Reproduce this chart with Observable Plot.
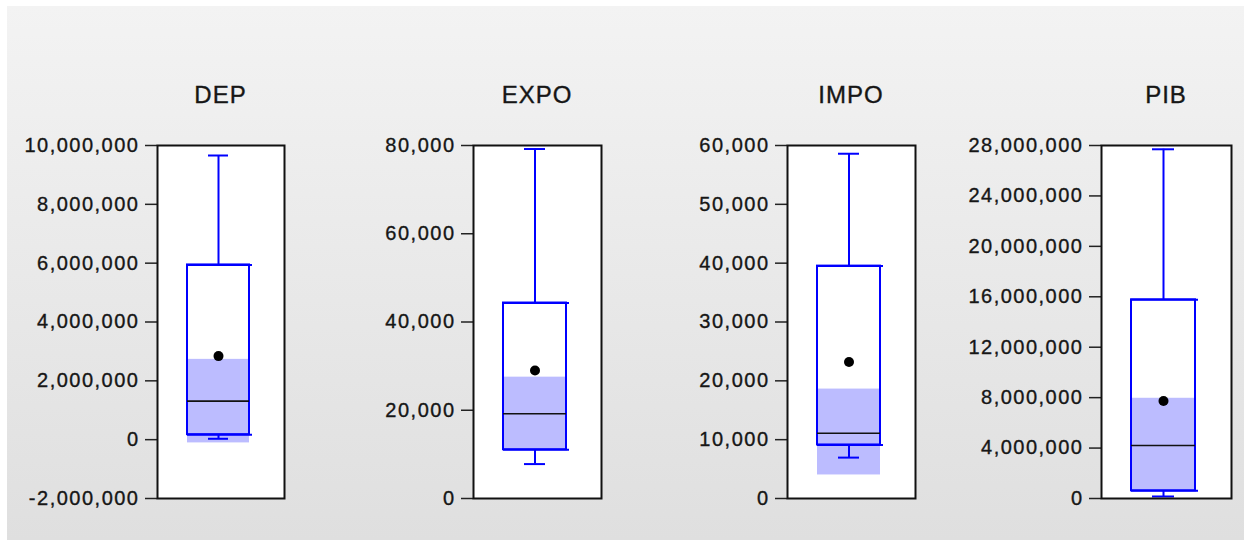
<!DOCTYPE html>
<html><head><meta charset="utf-8">
<script src="https://cdn.jsdelivr.net/npm/d3@7"></script>
<script src="https://cdn.jsdelivr.net/npm/@observablehq/plot@0.6"></script>
<style>
html,body{margin:0;padding:0;background:#fff;}
#page{position:relative;width:1244px;height:540px;overflow:hidden;background:#fff;}
#bg{position:absolute;left:7px;top:6px;right:0;bottom:0;background:linear-gradient(#f3f3f3,#dfdfdf);}
.title{position:absolute;top:83px;width:200px;font:24px "Liberation Sans",Arial,sans-serif;letter-spacing:1px;color:#161616;line-height:24px;text-align:center;-webkit-text-stroke:0.35px #161616;}
.panel{position:absolute;top:130px;}
.panel svg text{stroke:#161616;stroke-width:0.35px;}
</style></head>
<body><div id="page"><div id="bg"></div></div>
<script>
// Series and box statistics
const series = ["DEP", "EXPO", "IMPO", "PIB"];
const upperWhisker = [9660000, 79200, 58600, 27700000];
const q3 = [5940000, 44300, 39500, 15760000];
const median = [1310000, 19200, 11100, 4200000];
const mean = [2840000, 29000, 23200, 7730000];
const q1 = [170000, 11050, 9100, 610000];
const lowerWhisker = [30000, 7800, 6950, 160000];
const ciLow = [-110000, 10900, 4000, 550000];
const ciHigh = [2730000, 27500, 18600, 7950000];
const tickValues = [
  [-2000000, 0, 2000000, 4000000, 6000000, 8000000, 10000000],
  [0, 20000, 40000, 60000, 80000],
  [0, 10000, 20000, 30000, 40000, 50000, 60000],
  [0, 4000000, 8000000, 12000000, 16000000, 20000000, 24000000, 28000000]
];

// layout
const frameLeft = [157, 473, 787, 1101];
const frameWidth = [127, 128, 128, 130];
const ML = 150, MR = 10;

const fmt = d3.formatLocale({decimal: ".", thousands: ",", grouping: [3], currency: ["", ""], minus: "-"}).format(",");
const page = document.getElementById("page");
const blue = "#0000ff";

series.forEach((name, i) => {
  const d = [{name, lo: lowerWhisker[i], q1: q1[i], med: median[i], q3: q3[i], hi: upperWhisker[i], mean: mean[i], ciLo: ciLow[i], ciHi: ciHigh[i]}];
  const ticks = tickValues[i];
  const plot = Plot.plot({
    width: ML + frameWidth[i] + MR,
    height: 390,
    marginLeft: ML, marginRight: MR, marginTop: 15, marginBottom: 22,
    style: "background:transparent;font-family:'Liberation Sans',Arial,sans-serif;font-size:20px;letter-spacing:1.5px;overflow:visible;max-width:none;",
    x: {type: "band", domain: [name], padding: 0.34, align: 0.46, axis: null},
    y: {domain: d3.extent(ticks), axis: null},
    marks: [
      Plot.frame({fill: "white", stroke: "none"}),
      Plot.barY(d, {x: "name", y1: "ciLo", y2: "ciHi", fill: "#bcbcff"}),
      Plot.ruleX(d, {x: "name", y1: "q3", y2: "hi", stroke: blue, strokeWidth: 2}),
      Plot.ruleX(d, {x: "name", y1: "lo", y2: "q1", stroke: blue, strokeWidth: 2}),
      Plot.tickY(d, {x: "name", y: "hi", stroke: blue, strokeWidth: 2, insetLeft: 21, insetRight: 21}),
      Plot.tickY(d, {x: "name", y: "lo", stroke: blue, strokeWidth: 2, insetLeft: 21, insetRight: 21}),
      Plot.barY(d, {x: "name", y1: "q1", y2: "q3", fill: "none", stroke: blue, strokeWidth: 2}),
      Plot.tickY(d, {x: "name", y: "q1", stroke: blue, strokeWidth: 2, insetRight: -3}),
      Plot.tickY(d, {x: "name", y: "q3", stroke: blue, strokeWidth: 2, insetRight: -3}),
      Plot.tickY(d, {x: "name", y: "med", stroke: "#111", strokeWidth: 1.6}),
      Plot.dot(d, {x: "name", y: "mean", r: 5, fill: "#000", stroke: "none"}),
      Plot.axisY({ticks, tickFormat: fmt, tickSize: 12, tickPadding: 6, stroke: "#222", strokeWidth: 1.5, fill: "#161616", label: null}),
      Plot.frame({stroke: "#111", strokeWidth: 2})
    ]
  });
  const wrap = document.createElement("div");
  wrap.className = "panel";
  wrap.style.left = (frameLeft[i] - ML) + "px";
  wrap.appendChild(plot);
  page.appendChild(wrap);

  const t = document.createElement("div");
  t.className = "title";
  t.textContent = name;
  t.style.left = (frameLeft[i] + frameWidth[i] / 2 - 100) + "px";
  page.appendChild(t);
});
</script>
</body></html>
